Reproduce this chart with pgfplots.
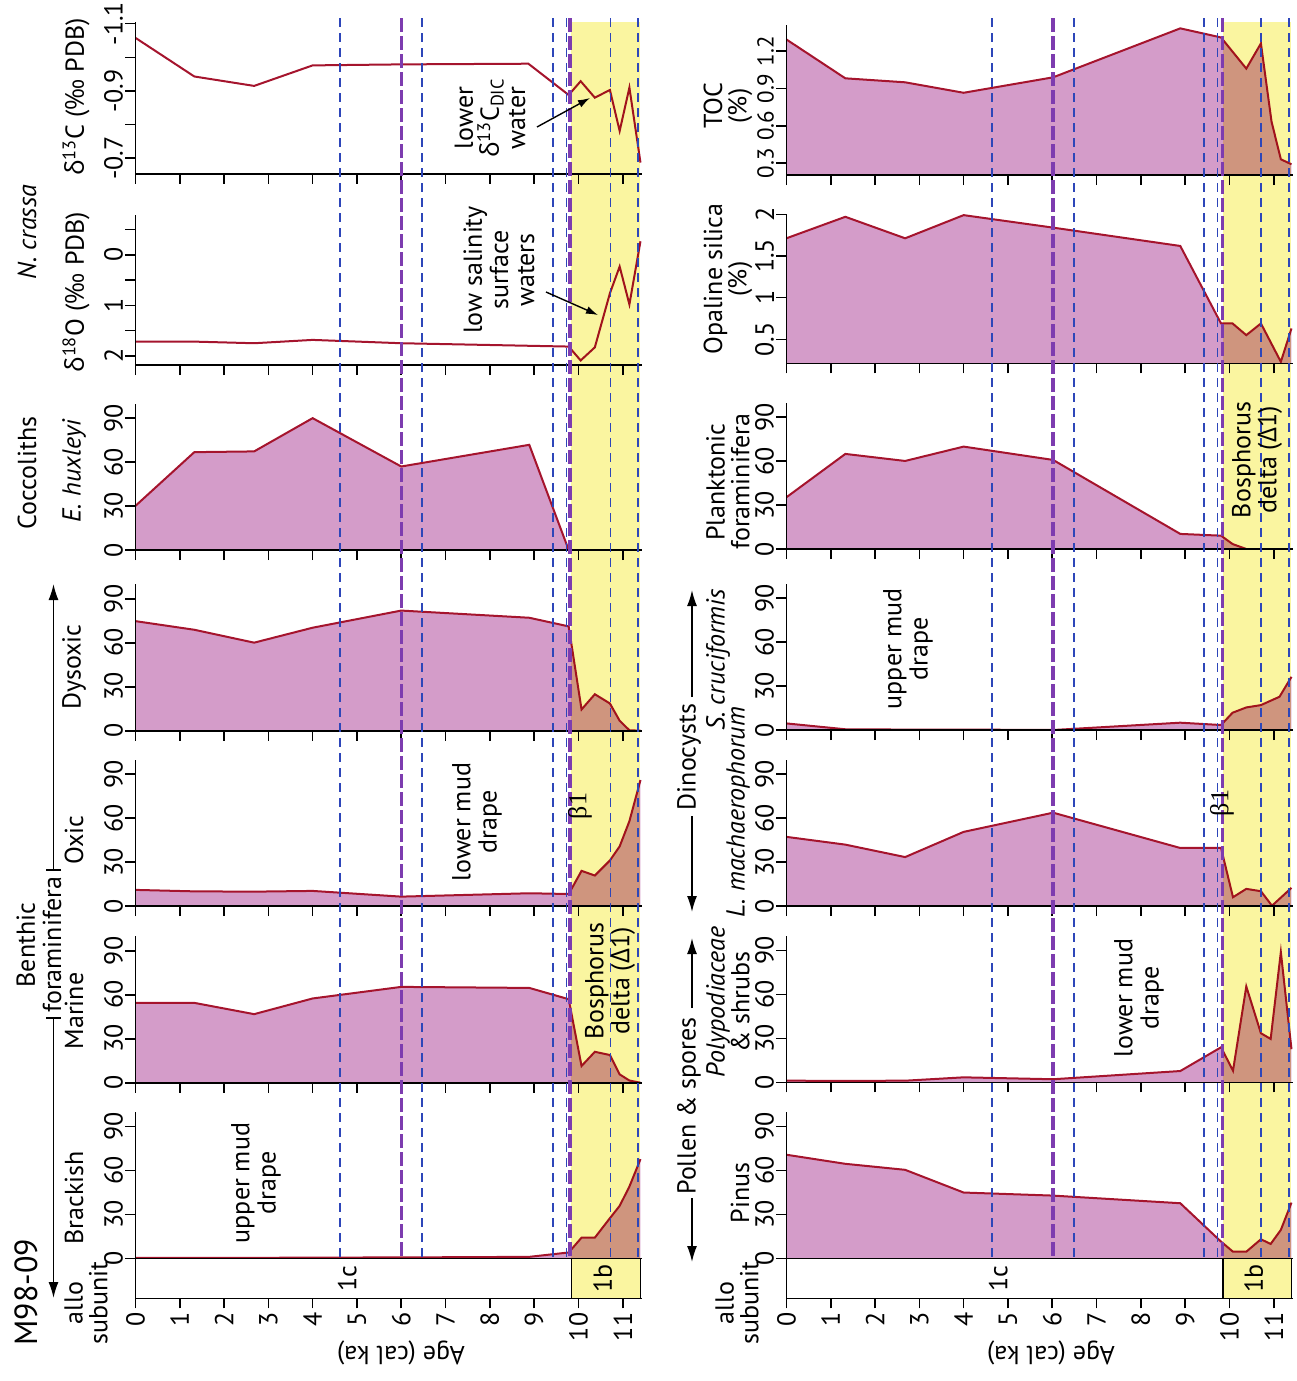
\documentclass[border=0pt]{standalone}
\usepackage{pgfplots}
\usepackage{pgfplotstable}
\pgfplotsset{compat=1.18}
\usepackage{fontspec}
\setmainfont{PT Sans}
\newfontfamily\grk{Open Sans}
\newfontfamily\srf{Liberation Serif}
\usetikzlibrary{arrows.meta}
\definecolor{fillpink}{RGB}{212,156,201}
\definecolor{linered}{RGB}{165,20,45}
\definecolor{yellowbg}{RGB}{250,245,160}
\definecolor{bluedash}{RGB}{45,70,185}
\definecolor{purpledash}{RGB}{125,60,175}
\newcommand\fs{\fontsize{13}{14.5}\selectfont}
\newcommand\fsb{\fontsize{16}{18}\selectfont}

% ---------------- data ----------------
\pgfplotstableread{
age val
0 -1.058
1.33 -0.943
2.68 -0.915
4.0 -0.976
6.0 -0.979
8.87 -0.981
9.78 -0.888
10.05 -0.929
10.37 -0.880
10.71 -0.903
10.93 -0.781
11.15 -0.910
11.4 -0.687
}\dCt
\pgfplotstableread{
age val
0 1.717
1.33 1.717
2.68 1.749
4.0 1.683
6.0 1.749
9.78 1.815
10.05 2.09
10.37 1.83
10.71 0.76
10.93 0.23
11.15 0.98
11.4 -0.27
}\dOx
\pgfplotstableread{
age val
0 30.1
1.33 66.8
2.68 67.3
4.0 90
6.0 57
8.89 71.8
9.78 0
}\Ehux
\pgfplotstableread{
age val
0 74.8
1.33 68.9
2.68 60.1
4.0 70.3
6.0 82
8.89 77.1
9.78 71.2
10.07 14.5
10.37 24.9
10.71 18.6
10.93 6.8
11.15 0.3
11.4 0
}\Dys
\pgfplotstableread{
age val
0 11
1.33 10
2.68 9.8
4.0 10.3
6.0 6.4
8.89 8.7
9.78 8.2
10.07 24
10.37 20.8
10.71 31.1
10.93 40.7
11.15 57.9
11.4 86
}\Oxic
\pgfplotstableread{
age val
0 54.5
1.33 54.5
2.68 46.8
4.0 57.5
6.0 65.4
8.89 64.7
9.78 57
10.07 11.4
10.37 21.1
10.71 18.9
10.93 5.7
11.15 1.5
11.4 0
}\Marine
\pgfplotstableread{
age val
0 0.3
1.33 0.3
2.68 0.3
4.0 0.5
6.0 0.6
8.89 1.0
9.78 4.0
10.07 14.1
10.37 14.1
10.71 27.4
10.93 35.8
11.15 49
11.4 67.7
}\Brack
\pgfplotstableread{
age val
0 1.294
1.33 0.982
2.68 0.95
4.0 0.866
6.02 0.99
8.89 1.383
9.81 1.31
10.38 1.06
10.71 1.262
10.95 0.634
11.16 0.332
11.4 0.292
}\TOC
\pgfplotstableread{
age val
0 1.712
1.33 1.97
2.68 1.712
4.0 1.99
6.02 1.84
8.89 1.62
9.81 0.69
10.07 0.69
10.38 0.55
10.71 0.69
11.16 0.23
11.4 0.63
}\Opal
\pgfplotstableread{
age val
0 35.3
1.33 64.9
2.68 60.1
4.0 69.9
6.02 60.8
8.89 10.3
9.81 9.1
10.07 3.4
10.38 0
}\Plank
\pgfplotstableread{
age val
0 4.5
1.33 0.5
2.68 0.3
4.0 0.3
6.02 0
8.89 5.0
9.81 3.4
10.07 11.8
10.38 15.4
10.71 17
11.13 22.7
11.4 36.3
}\Scruc
\pgfplotstableread{
age val
0 47.2
1.33 41.9
2.68 33.4
4.0 50.6
6.02 63.7
8.89 39.6
9.81 39.6
10.08 6
10.38 11.7
10.71 10.1
10.96 0.2
11.4 12.4
}\Lmach
\pgfplotstableread{
age val
0 1.1
1.33 1.0
2.68 1.1
4.0 3.4
6.02 2.1
8.89 7.7
9.81 23.9
10.08 7.9
10.38 65.4
10.71 33.5
10.93 29.6
11.16 88.9
11.4 22.6
}\Polyp
\pgfplotstableread{
age val
0 70.7
1.33 64.5
2.68 60.4
4.0 44.9
6.02 42.8
8.89 37.6
9.81 11.4
10.08 4.5
10.38 4.5
10.71 13
10.93 9.8
11.16 19.4
11.4 38
}\Pinus

\pgfplotsset{
  base/.style={
    scale only axis, width=253.2pt,
    xmin=0, xmax=11.43,
    axis x line=bottom, axis y line=left,
    axis line style={-, line width=0.8pt, black},
    tick align=outside,
    major tick length=5pt, minor tick length=5pt,
    every tick/.append style={black, line width=0.8pt},
    every minor tick/.append style={black, line width=0.8pt},
    tick label style={font=\fs},
    /pgf/number format/assume math mode=true,
    yticklabel style={rotate=90, anchor=south, inner sep=1pt},
    xtick={0,...,11}, xticklabels={},
    anchor=west, axis on top,
  },
  pct/.style={base, height=73.25pt, ymin=0, ymax=100, ytick={0,30,60,90}},
  areaf/.style={fill=fillpink, draw=none},
  linef/.style={linered, line width=1pt},
  over/.style={scale only axis, width=253.2pt, height=620.15pt, xmin=0, xmax=11.43,
    ymin=18, ymax=1258.3, y dir=reverse, hide axis, anchor=west, clip=false},
  strip/.style={base, height=20pt, ymin=0, ymax=1, axis y line=none, clip=false,
    xticklabels={0,1,2,3,4,5,6,7,8,9,10,11},
    xticklabel style={rotate=90, anchor=east, inner sep=2pt}},
  bd/.style={bluedash, line width=0.8pt, dash pattern=on 4.7pt off 2.8pt},
  pd/.style={purpledash, line width=1.7pt, dash pattern=on 7pt off 2pt},
}

\begin{document}
\begin{tikzpicture}
\begin{scope}[x=0.5pt,y=-0.5pt]
\path[use as bounding box] (0,0) rectangle (1296,1381);
\end{scope}

% ================= LEFT COLUMN =================
\begin{axis}[base, at={(67.7pt,-48.925pt)}, height=75.85pt, y dir=reverse,
  ymin=-1.105, ymax=-0.654, ytick={-1.1,-0.9,-0.7}, yticklabels={-1.1,-0.9,-0.7},
  minor ytick={-1.0,-0.8}]
\addplot[linef] table {\dCt};
\end{axis}
\begin{axis}[base, at={(67.7pt,-145pt)}, height=75pt, y dir=reverse,
  ymin=-0.79, ymax=2.18, ytick={0,1,2}, yticklabels={0,1,2},
  minor ytick={-0.5,0.5,1.5}]
\addplot[linef] table {\dOx};
\end{axis}
\begin{axis}[pct, at={(67.7pt,-238.375pt)}]
\addplot[areaf] table {\Ehux} \closedcycle;
\addplot[linef] table {\Ehux};
\end{axis}
\begin{axis}[pct, at={(67.7pt,-328.725pt)}]
\addplot[areaf] table {\Dys} \closedcycle;
\addplot[linef] table {\Dys};
\end{axis}
\begin{axis}[pct, at={(67.7pt,-416.375pt)}]
\addplot[areaf] table {\Oxic} \closedcycle;
\addplot[linef] table {\Oxic};
\end{axis}
\begin{axis}[pct, at={(67.7pt,-504.725pt)}]
\addplot[areaf] table {\Marine} \closedcycle;
\addplot[linef] table {\Marine};
\end{axis}
\begin{axis}[pct, at={(67.7pt,-592.525pt)}, xtick=\empty]
\addplot[areaf] table {\Brack} \closedcycle;
\addplot[linef] table {\Brack};
\end{axis}
% yellow overlay (multiply)
\begin{axis}[over, at={(67.7pt,-319.075pt)}]
\fill[yellowbg, blend mode=multiply] (axis cs:9.84,21.7) rectangle (axis cs:11.4,1258.3);
\end{axis}
% dashed lines
\begin{axis}[over, at={(67.7pt,-319.075pt)}]
\addplot[bd] coordinates {(4.62,18) (4.62,1258.3)};
\addplot[bd] coordinates {(6.47,18) (6.47,1258.3)};
\addplot[bd] coordinates {(9.42,18) (9.42,1258.3)};
\addplot[bd] coordinates {(9.73,18) (9.73,1258.3)};
\addplot[bd] coordinates {(10.72,18) (10.72,1258.3)};
\addplot[bd] coordinates {(11.34,18) (11.34,1258.3)};
\addplot[pd] coordinates {(6.01,18) (6.01,1258.3)};
\addplot[pd] coordinates {(9.81,18) (9.81,1258.3)};
\end{axis}
% strip
\begin{axis}[strip, at={(67.7pt,-639.15pt)}]
\fill[yellowbg] (axis cs:9.84,0) rectangle (axis cs:11.4,1);
\draw[line width=0.8pt] (axis cs:0,0) rectangle (axis cs:11.4,1);
\draw[line width=0.8pt] (axis cs:9.84,0) -- (axis cs:9.84,1);
\node[rotate=90, font=\fs] at (axis cs:4.78,0.5) {1c};
\node[rotate=90, font=\fs] at (axis cs:10.55,0.5) {1b};
\end{axis}

% ================= RIGHT COLUMN =================
\begin{axis}[base, at={(393.2pt,-50pt)}, height=75pt,
  ymin=0.206, ymax=1.41, ytick={0.3,0.6,0.9,1.2}, yticklabels={0.3,0.6,0.9,1.2},
  yticklabel style={font=\fontsize{11.5}{12}\selectfont}]
\addplot[areaf] table {\TOC} \closedcycle;
\addplot[linef] table {\TOC};
\end{axis}
\begin{axis}[base, at={(393.2pt,-144.4pt)}, height=74.5pt,
  ymin=0.212, ymax=2.0, ytick={0.5,1,1.5,2}, yticklabels={0.5,1,1.5,2}]
\addplot[areaf] table {\Opal} \closedcycle;
\addplot[linef] table {\Opal};
\end{axis}
\begin{axis}[pct, at={(393.2pt,-237.875pt)}]
\addplot[areaf] table {\Plank} \closedcycle;
\addplot[linef] table {\Plank};
\end{axis}
\begin{axis}[pct, at={(393.2pt,-328.375pt)}]
\addplot[areaf] table {\Scruc} \closedcycle;
\addplot[linef] table {\Scruc};
\end{axis}
\begin{axis}[pct, at={(393.2pt,-416.375pt)}]
\addplot[areaf] table {\Lmach} \closedcycle;
\addplot[linef] table {\Lmach};
\end{axis}
\begin{axis}[pct, at={(393.2pt,-504.525pt)}]
\addplot[areaf] table {\Polyp} \closedcycle;
\addplot[linef] table {\Polyp};
\end{axis}
\begin{axis}[pct, at={(393.2pt,-592.525pt)}, xtick=\empty]
\addplot[areaf] table {\Pinus} \closedcycle;
\addplot[linef] table {\Pinus};
\end{axis}
\begin{axis}[over, at={(393.2pt,-319.075pt)}]
\fill[yellowbg, blend mode=multiply] (axis cs:9.86,21.7) rectangle (axis cs:11.4,1258.3);
\end{axis}
\begin{axis}[over, at={(393.2pt,-319.075pt)}]
\addplot[bd] coordinates {(4.64,18) (4.64,1258.3)};
\addplot[bd] coordinates {(6.49,18) (6.49,1258.3)};
\addplot[bd] coordinates {(9.43,18) (9.43,1258.3)};
\addplot[bd] coordinates {(9.73,18) (9.73,1258.3)};
\addplot[bd] coordinates {(10.71,18) (10.71,1258.3)};
\addplot[bd] coordinates {(11.35,18) (11.35,1258.3)};
\addplot[pd] coordinates {(6.02,18) (6.02,1258.3)};
\addplot[pd] coordinates {(9.84,18) (9.84,1258.3)};
\end{axis}
\begin{axis}[strip, at={(393.2pt,-639.15pt)}]
\fill[yellowbg] (axis cs:9.86,0) rectangle (axis cs:11.4,1);
\draw[line width=0.8pt] (axis cs:0,0) rectangle (axis cs:11.4,1);
\draw[line width=0.8pt] (axis cs:9.86,0) -- (axis cs:9.86,1);
\node[rotate=90, font=\fs] at (axis cs:4.78,0.5) {1c};
\node[rotate=90, font=\fs] at (axis cs:10.55,0.5) {1b};
\end{axis}

% ================= TEXT =================
\begin{scope}[x=0.5pt,y=-0.5pt, every node/.style={font=\fs, inner sep=0pt}]
% left labels
\node[rotate=90] at (76,97) {{\grk δ}\textsuperscript{13}C ({\grk ‰} PDB)};
\node[rotate=90] at (27,232) {\itshape N. crassa};
\node[rotate=90] at (76,292) {{\grk δ}\textsuperscript{18}O ({\grk ‰} PDB)};
\node[rotate=90] at (27,473) {Coccoliths};
\node[rotate=90] at (74,471) {\itshape E. huxleyi};
\node[rotate=90] at (74,667) {Dysoxic};
\node[rotate=90] at (74,840) {Oxic};
\node[rotate=90, align=center, font=\fs\linespread{0.9}\selectfont] at (39,945) {Benthic\\foraminifera};
\node[rotate=90] at (74,1011) {Marine};
\node[rotate=90] at (74,1198) {Brackish};
\node[rotate=90, font=\fsb] at (26,1292) {M98-09};
\node[rotate=90, align=center, font=\fs\linespread{0.85}\selectfont] at (86,1303) {allo\\subunit};
\node[rotate=180] at (401,1353) {Age (cal ka)};
\draw[line width=0.8pt, -{Latex[length=8pt,width=5pt]}] (53.5,870) -- (53.5,584);
\draw[line width=0.8pt] (46,870) -- (61,870);
\draw[line width=0.8pt, -{Latex[length=8pt,width=5pt]}] (53.5,1018) -- (53.5,1298);
\draw[line width=0.8pt] (46,1018) -- (61,1018);
% left annotations
\node[rotate=90, align=center, font=\fs\linespread{0.9}\selectfont] at (490,118) {lower\\{\grk δ}\textsuperscript{13}C\textsubscript{DIC}\\water};
\draw[line width=0.7pt, -{Latex[length=6pt,width=4pt]}] (537,127) -- (590,98);
\node[rotate=90, align=center, font=\fs\linespread{0.9}\selectfont] at (499,270) {low salinity\\surface\\waters};
\draw[line width=0.7pt, -{Latex[length=6pt,width=4pt]}] (546,292) -- (598,315);
\node[rotate=90, align=center, font=\fs\linespread{0.9}\selectfont] at (477,822) {lower mud\\drape};
\node[rotate=90] at (580,806) {\srf β1};
\node[rotate=90, align=center, font=\fs\linespread{0.9}\selectfont] at (610,981) {Bosphorus\\delta ({\grk Δ}1)};
\node[rotate=90, align=center, font=\fs\linespread{0.9}\selectfont] at (256,1183) {upper mud\\drape};

% right labels
\node[rotate=90, align=center, font=\fs\linespread{0.85}\selectfont] at (728,106) {TOC\\(\%)};
\node[rotate=90, align=center, font=\fs\linespread{0.85}\selectfont] at (728,279) {Opaline silica\\(\%)};
\node[rotate=90, align=center, font=\fs\linespread{0.85}\selectfont] at (728,482) {Planktonic\\foraminifera};
\node[rotate=90] at (718,660) {\itshape S. cruciformis};
\node[rotate=90] at (689,757) {Dinocysts};
\node[rotate=90] at (738,812) {\itshape L. machaerophorum};
\draw[line width=0.8pt, -{Latex[length=8pt,width=5pt]}] (692,697) -- (692,590);
\draw[line width=0.8pt, -{Latex[length=8pt,width=5pt]}] (692,816) -- (692,912);
\node[rotate=90] at (689,1106) {Pollen \& spores};
\node[rotate=90, align=center, font=\fs\linespread{0.85}\selectfont] at (728,1002) {\itshape Polypodiaceae\\\& shrubs};
\node[rotate=90] at (740,1193) {Pinus};
\draw[line width=0.8pt, -{Latex[length=8pt,width=5pt]}] (692,1008) -- (692,938);
\draw[line width=0.8pt, -{Latex[length=8pt,width=5pt]}] (692,1198) -- (692,1262);
\node[rotate=90, align=center, font=\fs\linespread{0.85}\selectfont] at (737,1303) {allo\\subunit};
\node[rotate=180] at (1051,1353) {Age (cal ka)};
% right annotations
\node[rotate=90, align=center, font=\fs\linespread{0.9}\selectfont] at (908,649) {upper mud\\drape};
\node[rotate=90, align=center, font=\fs\linespread{0.9}\selectfont] at (1257,460) {Bosphorus\\delta ({\grk Δ}1)};
\node[rotate=90] at (1222,803) {\srf β1};
\node[rotate=90, align=center, font=\fs\linespread{0.9}\selectfont] at (1139,998) {lower mud\\drape};
\end{scope}
\end{tikzpicture}
\end{document}
